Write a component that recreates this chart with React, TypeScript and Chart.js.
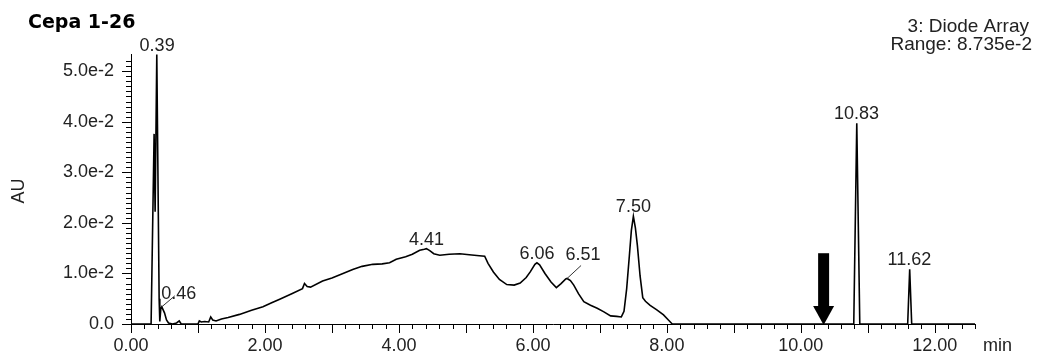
import React, { useEffect, useRef } from "react";
import { Chart, registerables } from "chart.js";

Chart.register(...registerables);

// ---------- DATA ----------
const chartTitle = "Cepa 1-26";
const detectorLine = "3: Diode Array";
const rangeLine = "Range: 8.735e-2";
const yAxisTitle = "AU";
const xAxisUnit = "min";

// retention time (min)
const retentionTime = [
  0.0, 0.27, 0.3, 0.345, 0.36, 0.385, 0.42, 0.43, 0.445, 0.46,
  0.5, 0.53, 0.56, 0.62, 0.68, 0.72, 0.75, 1.0, 1.02, 1.05,
  1.1, 1.16, 1.19, 1.22, 1.27, 1.35, 1.45, 1.62, 1.8, 1.97,
  2.1, 2.22, 2.4, 2.56, 2.59, 2.63, 2.68, 2.86, 3.0, 3.11,
  3.31, 3.45, 3.61, 3.75, 3.86, 3.96, 4.1, 4.2, 4.31, 4.38,
  4.41, 4.46, 4.52, 4.61, 4.75, 4.91, 5.05, 5.2, 5.28, 5.33,
  5.41, 5.5, 5.61, 5.72, 5.81, 5.9, 5.96, 6.03, 6.06, 6.1,
  6.18, 6.27, 6.35, 6.42, 6.49, 6.51, 6.56, 6.61, 6.68, 6.76,
  6.86, 6.96, 7.06, 7.16, 7.25, 7.32, 7.36, 7.4, 7.44, 7.47,
  7.5, 7.53, 7.56, 7.6, 7.64, 7.68, 7.75, 7.85, 7.95, 8.03,
  8.08, 10.79, 10.835, 10.88, 11.595, 11.625, 11.655, 12.6,
];

// absorbance in units of 1e-2 AU
const absorbanceE2 = [
  0, 0, 0, 3.76, 2.22, 5.33, 0.5, 0.05, 0.3, 0.34,
  0.22, 0.08, 0.02, 0, 0.02, 0.06, 0, 0, 0.06, 0.04,
  0.05, 0.04, 0.14, 0.08, 0.06, 0.1, 0.13, 0.19, 0.27, 0.34,
  0.42, 0.49, 0.6, 0.7, 0.8, 0.74, 0.73, 0.85, 0.91, 0.97,
  1.08, 1.14, 1.18, 1.19, 1.21, 1.28, 1.33, 1.38, 1.46, 1.48,
  1.49, 1.45, 1.39, 1.36, 1.38, 1.39, 1.37, 1.35, 1.34, 1.2,
  1.03, 0.88, 0.78, 0.77, 0.81, 0.92, 1.03, 1.18, 1.21, 1.17,
  1.0, 0.83, 0.72, 0.8, 0.89, 0.9, 0.86, 0.77, 0.6, 0.44,
  0.37, 0.31, 0.24, 0.16, 0.15, 0.14, 0.25, 0.7, 1.35, 1.85,
  2.13, 1.9, 1.55, 0.95, 0.52, 0.45, 0.37, 0.28, 0.18, 0.07,
  0, 0, 3.97, 0, 0, 1.08, 0, 0,
];

const peakTimes = [0.39, 0.46, 4.41, 6.06, 6.51, 7.5, 10.83, 11.62];
const peakHeightsE2 = [5.33, 0.34, 1.49, 1.21, 0.9, 2.13, 3.97, 1.08];
const peakLabels = ["0.39", "0.46", "4.41", "6.06", "6.51", "7.50", "10.83", "11.62"];

const markerTime = 10.34; // arrow marker
const markerTopE2 = 1.4;

const xMin = 0;
const xMax = 12.6;
const xMinorStep = 0.2;
const xMajorStep = 1;
const xLabelStep = 2;
const yMin = 0;
const yMax = 5.34;
const yMinorStep = 0.1;
const yMajorStep = 1;

// ---------- STYLE ----------
const TEXT = "#222";
const FONT = "Liberation Sans, Arial, sans-serif";
const leaderStyle: Record<string, { dx: number; dy: number; lx: number; ly: number }> = {
  "0.46": { dx: 17, dy: -8, lx: 13, ly: -11 },
  "6.51": { dx: 16, dy: -18, lx: 14, ly: -13 },
};

const isMultiple = (v: number, step: number) =>
  Math.abs(v / step - Math.round(v / step)) < 1e-6;

const decorPlugin = {
  id: "chromDecor",
  afterDraw(chart: any) {
    const { ctx, chartArea, scales } = chart;
    const xs = scales.x;
    const ys = scales.y;
    ctx.save();
    ctx.strokeStyle = "#000";
    ctx.lineWidth = 1;
    // x ticks
    ctx.beginPath();
    xs.ticks.forEach((t: any) => {
      if (!isMultiple(t.value, xMinorStep)) return;
      const x = Math.round(xs.getPixelForValue(t.value)) + 0.5;
      const len = isMultiple(t.value, xMajorStep) ? 9 : 5;
      ctx.moveTo(x, chartArea.bottom);
      ctx.lineTo(x, chartArea.bottom + len);
    });
    // y ticks
    ys.ticks.forEach((t: any) => {
      if (!isMultiple(t.value, yMinorStep)) return;
      const y = Math.round(ys.getPixelForValue(t.value)) + 0.5;
      const len = isMultiple(t.value, yMajorStep) ? 9 : 5;
      ctx.moveTo(chartArea.left, y);
      ctx.lineTo(chartArea.left - len, y);
    });
    ctx.stroke();

    // peak labels
    ctx.fillStyle = TEXT;
    ctx.font = `18px ${FONT}`;
    ctx.textAlign = "center";
    ctx.textBaseline = "alphabetic";
    peakLabels.forEach((lab, i) => {
      const px = xs.getPixelForValue(peakTimes[i]);
      const py = ys.getPixelForValue(peakHeightsE2[i]);
      const ls = leaderStyle[lab];
      if (ls) {
        ctx.strokeStyle = "#333";
        ctx.beginPath();
        ctx.moveTo(px, py);
        ctx.lineTo(px + ls.lx, py + ls.ly);
        ctx.stroke();
        ctx.fillText(lab, px + ls.dx, py + ls.dy);
      } else {
        ctx.fillText(lab, px, py - 4);
      }
    });

    // arrow marker
    const ax = xs.getPixelForValue(markerTime);
    const aTop = ys.getPixelForValue(markerTopE2);
    const aTip = ys.getPixelForValue(0) + 1;
    const headLen = 19;
    ctx.fillStyle = "#000";
    ctx.beginPath();
    ctx.rect(ax - 5.5, aTop, 11, aTip - headLen - aTop + 1);
    ctx.fill();
    ctx.beginPath();
    ctx.moveTo(ax - 10.5, aTip - headLen);
    ctx.lineTo(ax + 10.5, aTip - headLen);
    ctx.lineTo(ax, aTip);
    ctx.closePath();
    ctx.fill();

    // texts
    ctx.fillStyle = "#000";
    ctx.textAlign = "left";
    ctx.font = `bold 19px DejaVu Sans, sans-serif`;
    ctx.fillText(chartTitle, 28, 28);
    ctx.fillStyle = TEXT;
    ctx.font = `19px ${FONT}`;
    ctx.textAlign = "right";
    ctx.fillText(detectorLine, 1029, 32);
    ctx.fillText(rangeLine, 1032, 50);
    ctx.font = `18px ${FONT}`;
    ctx.textAlign = "left";
    ctx.fillText(xAxisUnit, 983, 351);
    ctx.translate(19, 191);
    ctx.rotate(-Math.PI / 2);
    ctx.textAlign = "center";
    ctx.textBaseline = "middle";
    ctx.fillText(yAxisTitle, 0, 0);
    ctx.restore();
  },
};

export default function App() {
  const ref = useRef<HTMLCanvasElement>(null);
  useEffect(() => {
    if (!ref.current) return;
    const points = retentionTime.map((t, i) => ({ x: t, y: absorbanceE2[i] }));
    const chart = new Chart(ref.current, {
      type: "line",
      data: {
        datasets: [
          {
            data: points,
            borderColor: "#000",
            borderWidth: 1.6,
            pointRadius: 0,
            tension: 0,
            fill: false,
            clip: false as any,
          },
        ],
      },
      options: {
        animation: false,
        responsive: true,
        maintainAspectRatio: false,
        layout: { padding: { top: 54, right: 63, bottom: 0, left: 0 } },
        plugins: { legend: { display: false }, tooltip: { enabled: false }, title: { display: false } },
        scales: {
          x: {
            type: "linear",
            min: xMin,
            max: xMax,
            grid: { display: false },
            border: { display: true, color: "#000", width: 1 },
            ticks: {
              stepSize: xMinorStep,
              autoSkip: false,
              maxRotation: 0,
              minRotation: 0,
              padding: 3,
              color: TEXT,
              font: { family: FONT, size: 18 },
              callback: (v: any) => (isMultiple(Number(v), xLabelStep) ? Number(v).toFixed(2) : ""),
            },
            afterFit: (s: any) => {
              s.height = 34;
            },
          },
          y: {
            type: "linear",
            min: yMin,
            max: yMax,
            grid: { display: false },
            border: { display: true, color: "#000", width: 1 },
            ticks: {
              stepSize: yMinorStep,
              autoSkip: false,
              padding: 9,
              color: TEXT,
              font: { family: FONT, size: 18 },
              callback: (v: any) => {
                const n = Number(v);
                if (!isMultiple(n, yMajorStep)) return "";
                return n === 0 ? "0.0" : `${n.toFixed(1)}e-2`;
              },
            },
            afterFit: (s: any) => {
              s.width = 131;
            },
          },
        },
      },
      plugins: [decorPlugin],
    });
    return () => chart.destroy();
  }, []);
  return (
    <div style={{ position: "absolute", left: 0, top: 0, width: 1038, height: 358, background: "#fff" }}>
      <canvas ref={ref} />
    </div>
  );
}
